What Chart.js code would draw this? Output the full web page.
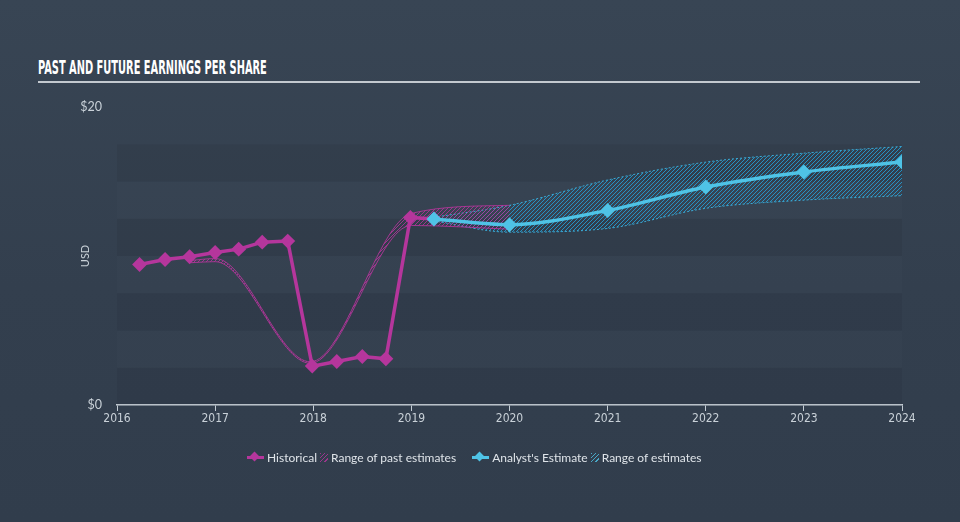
<!DOCTYPE html>
<html>
<head>
<meta charset="utf-8">
<script src="https://cdn.jsdelivr.net/npm/chart.js@4"></script>
<style>
  html, body { margin: 0; padding: 0; }
  body {
    width: 960px; height: 522px; overflow: hidden; position: relative;
    background: linear-gradient(180deg, #384554 0%, #333f4e 55%, #313d4c 100%);
    font-family: Lato, 'Open Sans', sans-serif;
  }
  #title {
    position: absolute; left: 38px; top: 57px; white-space: nowrap;
    font: bold 20px/20px 'Liberation Sans Narrow', 'DejaVu Sans Condensed', sans-serif;
    color: #ffffff; transform-origin: 0 0;
  }
  #rule { position: absolute; left: 38px; top: 81px; width: 882px; height: 1.5px; background: #c3c9cf; }
  #chart { position: absolute; left: 0; top: 0; }
  #legend {
    position: absolute; left: 247px; top: 449px; height: 16px;
    display: flex; align-items: center; font-size: 12px; color: #dfe4e9; white-space: nowrap;
  }
  .mark { position: relative; width: 17px; height: 12px; margin-right: 3px; }
  .mark::before { content: ''; position: absolute; left: 0; right: 0; top: 5px; height: 3px; background: var(--c); }
  .mark::after {
    content: ''; position: absolute; left: 4px; top: 2px; width: 7px; height: 7px;
    background: var(--c); transform: rotate(45deg);
  }
  .hatch {
    width: 8px; height: 9px; margin: 0 3px 0 3px;
    background: repeating-linear-gradient(135deg, var(--c) 0 1px, transparent 1px 3px);
    opacity: 0.8;
  }
  .gap { width: 16px; }
</style>
</head>
<body>
<div id="title">PAST AND FUTURE EARNINGS PER SHARE</div>
<div id="rule"></div>
<canvas id="chart" width="960" height="522"></canvas>
<div id="legend">
  <div class="mark" style="--c:#b5369c"></div><span>Historical</span>
  <div class="hatch" style="--c:#b5369c"></div><span>Range of past estimates</span>
  <div class="gap"></div>
  <div class="mark" style="--c:#4fc3e6"></div><span>Analyst's Estimate</span>
  <div class="hatch" style="--c:#4fc3e6"></div><span>Range of estimates</span>
</div>
<script>
// Past and future EPS (USD), x values in decimal years
const histDates = [2016.23, 2016.49, 2016.74, 2017.0, 2017.24, 2017.48, 2017.74, 2017.99, 2018.24, 2018.5, 2018.74, 2018.99, 2019.23];
const histEps   = [9.43, 9.76, 9.95, 10.24, 10.46, 10.93, 11.0, 2.61, 2.92, 3.25, 3.1, 12.59, 12.48];

const pastRangeDates = [2016.75, 2017.0, 2017.97, 2019.0, 2020.0];
const pastRangeLow   = [9.55, 9.62, 2.8, 12.05, 11.8];
const pastRangeHigh  = [9.7, 9.83, 2.9, 12.86, 13.4];

const estDates = [2019.23, 2020, 2021, 2022, 2023, 2024];
const estEps   = [12.48, 12.1, 13.06, 14.63, 15.64, 16.31];
const estLow   = [12.35, 11.6, 11.85, 13.2, 13.75, 14.05];
const estHigh  = [12.6, 13.4, 15.1, 16.3, 16.9, 17.35];

const yTicks = [0, 20];
const yearTicks = [2016, 2017, 2018, 2019, 2020, 2021, 2022, 2023, 2024];

const COLORS = {
  hist: '#b5369c',
  est:  '#4fc3e6',
  axis: '#c3ccd4',
  text: '#c9d1d8',
};

const pts = (xs, ys) => xs.map((x, i) => ({ x, y: ys[i] }));

// crisp 1px "/" hatch tile
function hatch(color, size = 4) {
  const c = document.createElement('canvas');
  c.width = c.height = size;
  const g = c.getContext('2d');
  g.fillStyle = color;
  for (let i = 0; i < size; i++) g.fillRect(i, size - 1 - i, 1, 1);
  return g.createPattern(c, 'repeat');
}

// alternating horizontal bands every 2.5 units
const stripes = {
  id: 'stripes',
  beforeDatasetsDraw(chart) {
    const { ctx, chartArea: a, scales: { y } } = chart;
    ctx.save();
    for (let v = 0, k = 0; v < 17.5; v += 2.5, k++) {
      const top = y.getPixelForValue(v + 2.5), bot = y.getPixelForValue(v);
      ctx.fillStyle = k % 2 === 0 ? 'rgba(0,0,0,0.05)' : 'rgba(255,255,255,0.01)';
      ctx.fillRect(a.left, top, a.right - a.left, bot - top);
    }
    ctx.restore();
  }
};

// squeeze title to reference width
const title = document.getElementById('title');
title.style.transform = `scaleX(${229 / title.offsetWidth})`;

const diamond = { pointStyle: 'rectRot', pointRadius: 5, pointHoverRadius: 5 };

new Chart(document.getElementById('chart'), {
  type: 'line',
  data: {
    datasets: [
      {
        label: "Analyst's Estimate",
        data: pts(estDates, estEps),
        borderColor: COLORS.est,
        backgroundColor: COLORS.est,
        borderWidth: 3.5,
        cubicInterpolationMode: 'monotone',
        ...diamond,
        fill: false,
      },
      {
        label: 'Historical',
        data: pts(histDates, histEps),
        borderColor: COLORS.hist,
        backgroundColor: COLORS.hist,
        borderWidth: 3.5,
        tension: 0,
        ...diamond,
        fill: false,
      },
      {
        label: 'past low',
        data: pts(pastRangeDates, pastRangeLow),
        borderColor: 'rgba(181,54,156,0.85)',
        borderWidth: 1,
        pointRadius: 0,
        cubicInterpolationMode: 'monotone',
        fill: false,
      },
      {
        label: 'Range of past estimates',
        data: pts(pastRangeDates, pastRangeHigh),
        borderColor: 'rgba(181,54,156,0.85)',
        borderWidth: 1,
        pointRadius: 0,
        cubicInterpolationMode: 'monotone',
        fill: { target: 2 },
        backgroundColor: hatch('rgba(181,54,156,0.8)'),
      },
      {
        label: 'est low',
        data: pts(estDates, estLow),
        borderColor: 'rgba(60,180,225,0.9)',
        borderWidth: 1,
        borderDash: [2, 2],
        pointRadius: 0,
        cubicInterpolationMode: 'monotone',
        fill: false,
      },
      {
        label: 'Range of estimates',
        data: pts(estDates, estHigh),
        borderColor: 'rgba(60,180,225,0.9)',
        borderWidth: 1,
        borderDash: [2, 2],
        pointRadius: 0,
        cubicInterpolationMode: 'monotone',
        fill: { target: 4 },
        backgroundColor: hatch('rgba(35,160,215,0.85)'),
      },
    ],
  },
  options: {
    responsive: false,
    animation: false,
    events: [],
    layout: { padding: { left: 75, right: 58, top: 107, bottom: 87 } },
    plugins: { legend: { display: false }, tooltip: { enabled: false } },
    scales: {
      x: {
        type: 'linear',
        min: 2016, max: 2024,
        afterBuildTicks: s => { s.ticks = yearTicks.map(v => ({ value: v })); },
        afterFit: s => { s.height = 30; },
        ticks: {
          color: COLORS.text,
          font: { family: "'Liberation Sans Narrow', 'DejaVu Sans Condensed', sans-serif", size: 12 },
          padding: 1,
          maxRotation: 0,
          callback: v => String(v),
        },
        grid: { drawOnChartArea: false, drawTicks: true, tickLength: 6, color: COLORS.axis, lineWidth: 1 },
        border: { display: true, color: COLORS.axis, width: 1.5 },
      },
      y: {
        min: 0, max: 20,
        afterBuildTicks: s => { s.ticks = yTicks.map(v => ({ value: v })); },
        afterFit: s => { s.width = 42; },
        ticks: {
          color: COLORS.text,
          font: { family: 'Lato, sans-serif', size: 12.5 },
          padding: 15,
          callback: v => '$' + v,
        },
        grid: { display: false, drawTicks: false },
        border: { display: false },
        title: {
          display: true, text: 'USD', color: COLORS.text,
          font: { family: 'Lato, sans-serif', size: 11 },
        },
      },
    },
  },
  plugins: [stripes],
});
</script>
</body>
</html>
